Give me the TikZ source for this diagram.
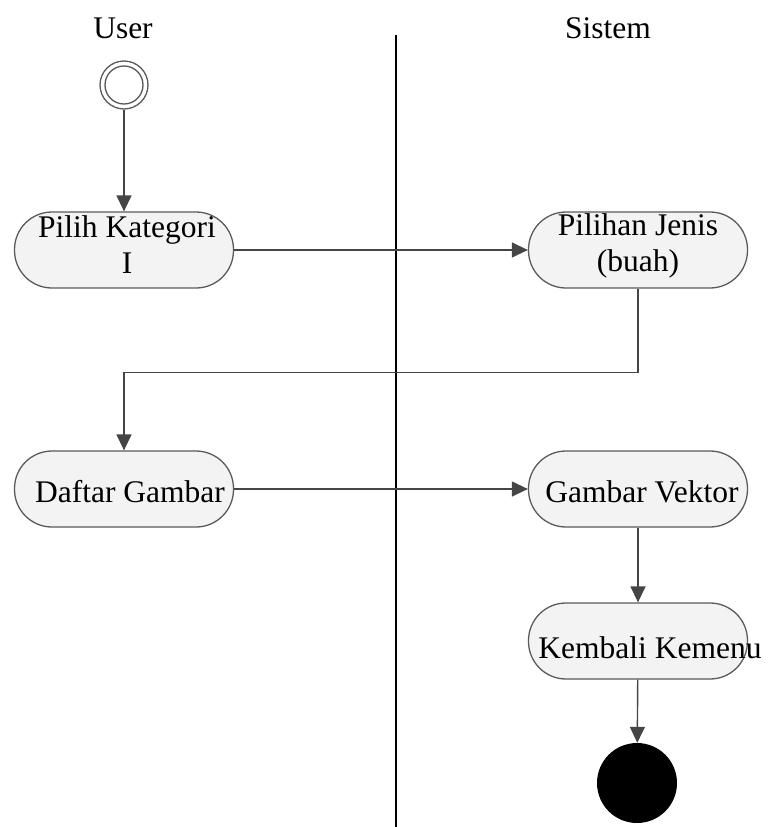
\documentclass[tikz,border=0pt]{standalone}
\usepackage{fontspec}
\setmainfont{Liberation Serif}
\usetikzlibrary{arrows.meta,calc}
\definecolor{edgegray}{HTML}{454545}
\definecolor{boxfill}{HTML}{F3F3F3}
\definecolor{boxline}{HTML}{5A5A5A}
\tikzset{
  actbox/.style={draw=boxline, line width=1.3pt, fill=boxfill, rounded corners=37.5pt,
    minimum width=219pt, minimum height=76pt, inner sep=0pt},
  lbl/.style={font=\fontsize{31.5}{36}\selectfont, inner sep=0pt, align=center},
  flow/.style={draw=edgegray, line width=1.4pt, -{Triangle[length=16pt,width=15pt]}},
}
\begin{document}
\begin{tikzpicture}[x=1pt,y=-1pt]
\useasboundingbox (0,0) rectangle (768,827);
% headers
\node[lbl, anchor=base] (huser) at (123,38) {User};
\node[lbl, anchor=base] (hsys) at (608,38) {Sistem};
% swimlane divider
\coordinate (ltop) at (396,35);
\coordinate (lbot) at (396,827);
\draw[line width=1.2pt, black] (ltop) -- (lbot);
% initial node
\node[circle, draw=boxline, line width=1.3pt, minimum size=48pt, inner sep=0pt, fill=white] (start) at (124,85) {};
\node[circle, draw=boxline, line width=1.3pt, minimum size=38pt, inner sep=0pt] (startin) at (124,85) {};
% activity boxes
\node[actbox] (a1) at (124,250) {};
\node[actbox] (a2) at (638,250) {};
\node[actbox] (a3) at (124,489) {};
\node[actbox] (a4) at (638,489) {};
\node[actbox] (a5) at (638,641) {};
% texts
\node[lbl] (t1) at (127,245) {Pilih Kategori\\I};
\node[lbl] (t2) at (638,246) {Pilihan Jenis\\(buah)};
\node[lbl, anchor=base] (t3) at (130,502) {Daftar Gambar};
\node[lbl, anchor=base] (t4) at (642,502) {Gambar Vektor};
\node[lbl, anchor=base] (t5) at (650,658) {Kembali Kemenu};
% final node
\node[circle, fill=black, minimum size=80pt, inner sep=0pt] (end) at (637,783) {};
% connectors
\draw[flow] (start) -- (a1);
\draw[flow] (a1) -- (a2);
\draw[flow] (a2.south) -- ++(0,84) -| (a3.north);
\draw[flow] (a3.east) -- (a4.west);
\draw[flow] (a4) -- (a5);
\draw[flow] (a5) -- (end);
\end{tikzpicture}
\end{document}
